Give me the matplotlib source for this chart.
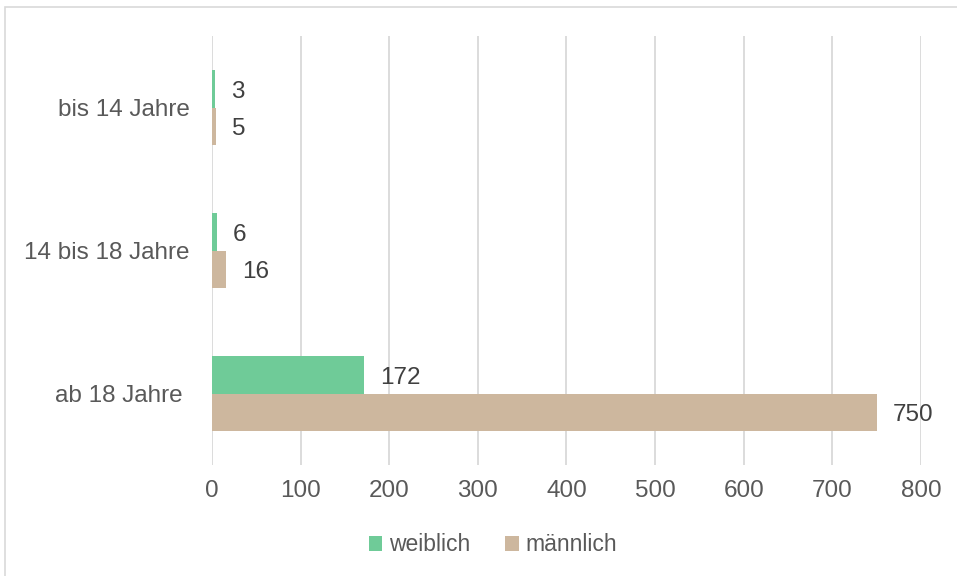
import numpy as np
import matplotlib.pyplot as plt
from matplotlib.patches import Rectangle

# Daten
kategorien = ['bis 14 Jahre', '14 bis 18 Jahre', 'ab 18 Jahre ']
weiblich = [3, 6, 172]
maennlich = [5, 16, 750]
x_ticks = [0, 100, 200, 300, 400, 500, 600, 700, 800]

plt.rcParams['font.family'] = ['Liberation Sans', 'DejaVu Sans']

fig = plt.figure(figsize=(9.57, 5.76), dpi=100)
ax = fig.add_axes([0.2215, 0.1927, 0.7409, 0.7448])

y = np.arange(len(kategorien))
h = 0.26
col_w = '#6fcb98'
col_m = '#cdb79e'

bars_w = ax.barh(y - h / 2, weiblich, height=h, color=col_w, label='weiblich', zorder=3)
bars_m = ax.barh(y + h / 2, maennlich, height=h, color=col_m, label='männlich', zorder=3)

for bars, vals in [(bars_w, weiblich), (bars_m, maennlich)]:
    for b, v in zip(bars, vals):
        ax.text(b.get_width() + 18, b.get_y() + b.get_height() / 2 + 0.02, str(v),
                va='center', ha='left', fontsize=17.5, color='#404040')

ax.set_ylim(2.5, -0.5)
ax.set_xlim(0, 800)
ax.set_xticks(x_ticks)
ax.set_yticks(y)
ax.set_yticklabels(kategorien)
ax.tick_params(axis='both', length=0, labelsize=17.5, labelcolor='#595959')
ax.tick_params(axis='y', pad=16)
ax.tick_params(axis='x', pad=11)
ax.grid(axis='x', color='#d9d9d9', linewidth=1.3, zorder=0)
for s in ax.spines.values():
    s.set_visible(False)

fig.legend(loc='center', bbox_to_anchor=(0.515, 0.054), ncol=2, frameon=False,
           fontsize=16.5, labelcolor='#595959', handlelength=0.6, handleheight=0.6,
           handletextpad=0.3, columnspacing=1.5)

fig.patches.append(Rectangle((5 / 957, -0.1), 1.2, (576 - 7) / 576 + 0.1,
                             transform=fig.transFigure, fill=False,
                             edgecolor='#d9d9d9', linewidth=1.2))

fig.savefig('out.png', dpi=100)
